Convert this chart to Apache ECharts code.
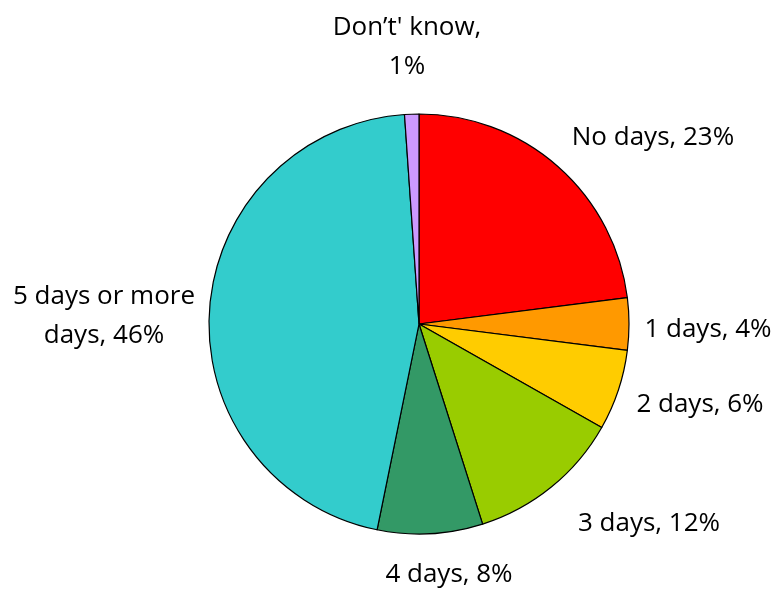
<!DOCTYPE html>
<html>
<head>
<meta charset="utf-8">
<script src="https://cdn.jsdelivr.net/npm/echarts@6/dist/echarts.min.js"></script>
<style>
  html, body { margin: 0; padding: 0; background: #fff; }
  #main { width: 779px; height: 590px; }
</style>
</head>
<body>
<div id="main"></div>
<script>
// slices clockwise from 12 o'clock
var categories = ['No days', '1 days', '2 days', '3 days', '4 days', '5 days or more\ndays', 'Don’t\' know,\n'];
var values = [23.0, 4.0, 6.2, 11.9, 8.1, 45.7, 1.1];
var colors = ['#FF0000', '#FF9900', '#FFCC00', '#99CC00', '#339966', '#33CCCC', '#CC99FF'];

// where excel put each data label (label centre)
var labelPos = [[653, 138], [708, 330], [700, 405], [649, 524], [449, 575], [104, 316], [407, 47]];

var chart = echarts.init(document.getElementById('main'));

var data = categories.map(function (name, i) {
  return {
    name: name,
    value: values[i],
    itemStyle: { color: colors[i] }
  };
});

var option = {
  animation: false,
  series: [{
    type: 'pie',
    center: [419, 324],
    radius: 210,
    startAngle: 90,
    clockwise: true,
    avoidLabelOverlap: false,
    data: data,
    itemStyle: {
      borderColor: '#000',
      borderWidth: 1.2
    },
    label: {
      show: true,
      position: 'outside',
      fontFamily: 'Open Sans',
      fontSize: 26,
      lineHeight: 39,
      color: '#000',
      align: 'center',
      formatter: function (p) {
        var pct = Math.round(p.value) + '%';
        var name = p.name;
        if (name.slice(-1) === '\n') return name + pct;
        return name + ', ' + pct;
      }
    },
    labelLine: {
      show: false
    },
    labelLayout: function (params) {
      var pos = labelPos[params.dataIndex];
      return {
        x: pos[0],
        y: pos[1],
        align: 'center',
        verticalAlign: 'middle'
      };
    }
  }]
};

chart.setOption(option);
</script>
</body>
</html>
